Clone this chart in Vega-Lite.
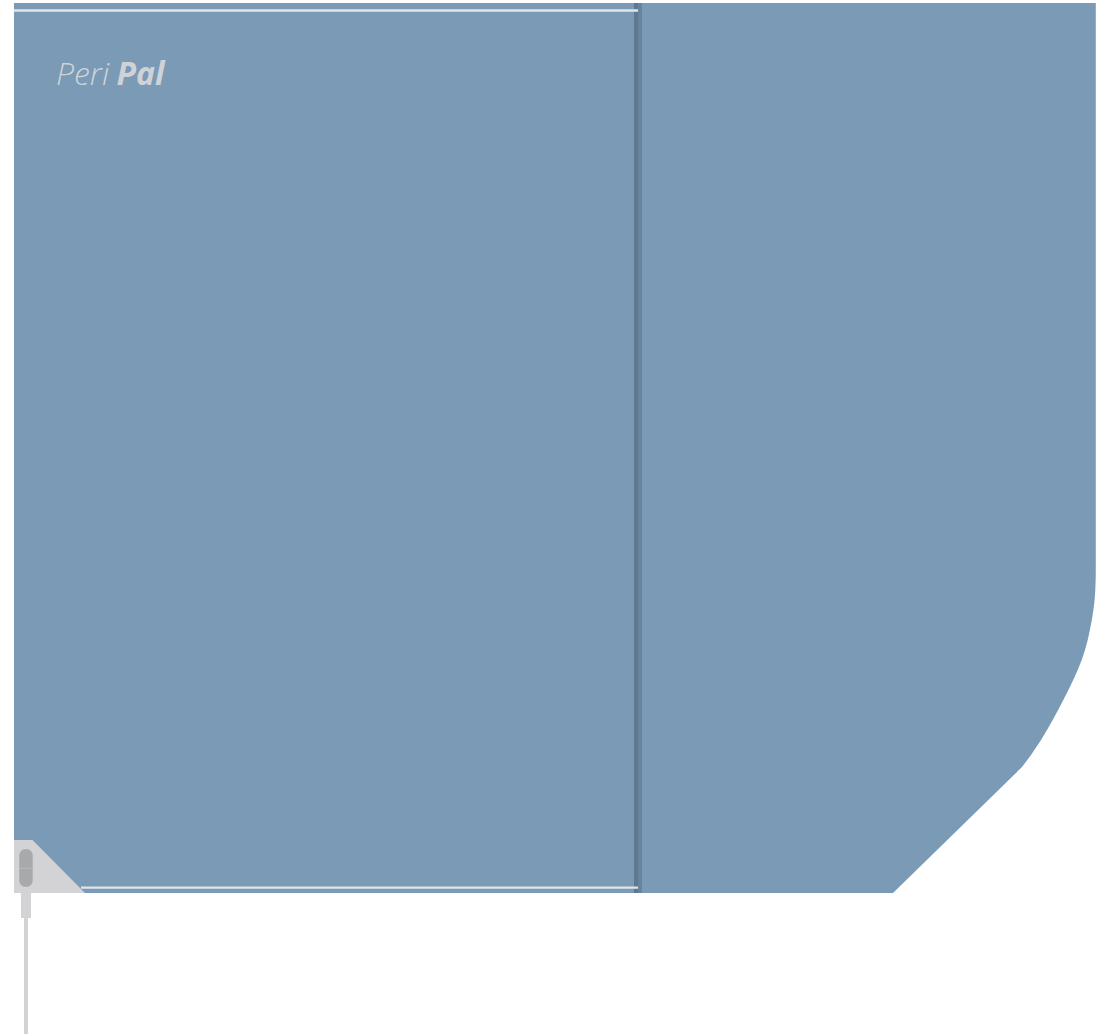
{
  "$schema": "https://vega.github.io/schema/vega-lite/v6.json",
  "width": 1106,
  "height": 1034,
  "autosize": {"type": "fit", "contains": "padding"},
  "padding": 0,
  "background": "#ffffff",
  "view": {"stroke": null},
  "config": {"axis": {"disable": true}, "legend": {"disable": true}},
  "datasets": {
    "body": [
      {"x": 14, "top": 3, "bot": 893},
      {"x": 893, "top": 3, "bot": 893},
      {"x": 1022, "top": 3, "bot": 767},
      {"x": 1031, "top": 3, "bot": 755},
      {"x": 1041, "top": 3, "bot": 740},
      {"x": 1047, "top": 3, "bot": 730},
      {"x": 1052.7, "top": 3, "bot": 720},
      {"x": 1058.1, "top": 3, "bot": 710},
      {"x": 1063.3, "top": 3, "bot": 700},
      {"x": 1068.4, "top": 3, "bot": 690},
      {"x": 1073.2, "top": 3, "bot": 680},
      {"x": 1077.7, "top": 3, "bot": 670},
      {"x": 1081.7, "top": 3, "bot": 660},
      {"x": 1085, "top": 3, "bot": 650},
      {"x": 1087.7, "top": 3, "bot": 640},
      {"x": 1089.9, "top": 3, "bot": 630},
      {"x": 1091.8, "top": 3, "bot": 620},
      {"x": 1093.4, "top": 3, "bot": 610},
      {"x": 1094.6, "top": 3, "bot": 600},
      {"x": 1095.3, "top": 3, "bot": 590},
      {"x": 1095.7, "top": 3, "bot": 578},
      {"x": 1095.8, "top": 3, "bot": 565}
    ],
    "tab": [
      {"x": 14, "top": 840, "bot": 893},
      {"x": 32.5, "top": 840, "bot": 893},
      {"x": 85, "top": 893, "bot": 893}
    ],
    "parts": [
      {"part": "fold dark", "x1": 634, "x2": 638, "y1": 3, "y2": 893},
      {"part": "fold mid", "x1": 638, "x2": 642, "y1": 3, "y2": 893},
      {"part": "top line", "x1": 14, "x2": 638, "y1": 9.3, "y2": 11.7},
      {"part": "bottom line", "x1": 81, "x2": 638, "y1": 886.4, "y2": 888.8},
      {"part": "stem", "x1": 21, "x2": 31, "y1": 893, "y2": 918},
      {"part": "cable", "x1": 24, "x2": 28, "y1": 918, "y2": 1034}
    ],
    "button": [
      {"part": "button", "x1": 19.3, "x2": 32.7, "y1": 849.3, "y2": 886.7}
    ],
    "seam": [
      {"x1": 19.8, "x2": 32.2, "y": 868.3}
    ],
    "logo": [
      {"label": "Peri", "x": 56, "y": 85},
      {"label": "Pal", "x": 116.5, "y": 85}
    ]
  },
  "layer": [
    {
      "data": {"name": "body"},
      "mark": {"type": "area", "color": "#7a9ab6", "interpolate": "linear"},
      "encoding": {
        "x": {"field": "x", "type": "quantitative", "scale": {"domain": [0, 1106], "nice": false, "zero": false}},
        "y": {"field": "top", "type": "quantitative", "scale": {"domain": [0, 1034], "nice": false, "zero": false, "reverse": true}},
        "y2": {"field": "bot"}
      }
    },
    {
      "data": {"name": "tab"},
      "mark": {"type": "area", "color": "#d3d3d5", "interpolate": "linear"},
      "encoding": {
        "x": {"field": "x", "type": "quantitative"},
        "y": {"field": "top", "type": "quantitative"},
        "y2": {"field": "bot"}
      }
    },
    {
      "data": {"name": "parts"},
      "mark": {"type": "rect"},
      "encoding": {
        "x": {"field": "x1", "type": "quantitative"},
        "x2": {"field": "x2"},
        "y": {"field": "y1", "type": "quantitative"},
        "y2": {"field": "y2"},
        "color": {
          "field": "part",
          "type": "nominal",
          "scale": {
            "domain": ["fold dark", "fold mid", "top line", "bottom line", "stem", "cable"],
            "range": ["#5e7892", "#67839d", "#e2e3e5", "#e2e3e5", "#d3d3d5", "#d3d3d5"]
          },
          "legend": null
        }
      }
    },
    {
      "data": {"name": "button"},
      "mark": {"type": "rect", "color": "#a8a9ab", "cornerRadius": 6},
      "encoding": {
        "x": {"field": "x1", "type": "quantitative"},
        "x2": {"field": "x2"},
        "y": {"field": "y1", "type": "quantitative"},
        "y2": {"field": "y2"}
      }
    },
    {
      "data": {"name": "seam"},
      "mark": {"type": "rule", "color": "#b8b9bb", "strokeWidth": 1},
      "encoding": {
        "x": {"field": "x1", "type": "quantitative"},
        "x2": {"field": "x2"},
        "y": {"field": "y", "type": "quantitative"}
      }
    },
    {
      "data": {"name": "logo"},
      "transform": [{"filter": "datum.label === 'Peri'"}],
      "mark": {"type": "text", "align": "left", "baseline": "alphabetic", "font": "Open Sans", "fontSize": 32, "fontStyle": "italic", "fontWeight": 300, "color": "#cfd3d8"},
      "encoding": {
        "x": {"field": "x", "type": "quantitative"},
        "y": {"field": "y", "type": "quantitative"},
        "text": {"field": "label"}
      }
    },
    {
      "data": {"name": "logo"},
      "transform": [{"filter": "datum.label === 'Pal'"}],
      "mark": {"type": "text", "align": "left", "baseline": "alphabetic", "font": "Open Sans", "fontSize": 32, "fontStyle": "italic", "fontWeight": 700, "color": "#cfd3d8"},
      "encoding": {
        "x": {"field": "x", "type": "quantitative"},
        "y": {"field": "y", "type": "quantitative"},
        "text": {"field": "label"}
      }
    }
  ]
}
